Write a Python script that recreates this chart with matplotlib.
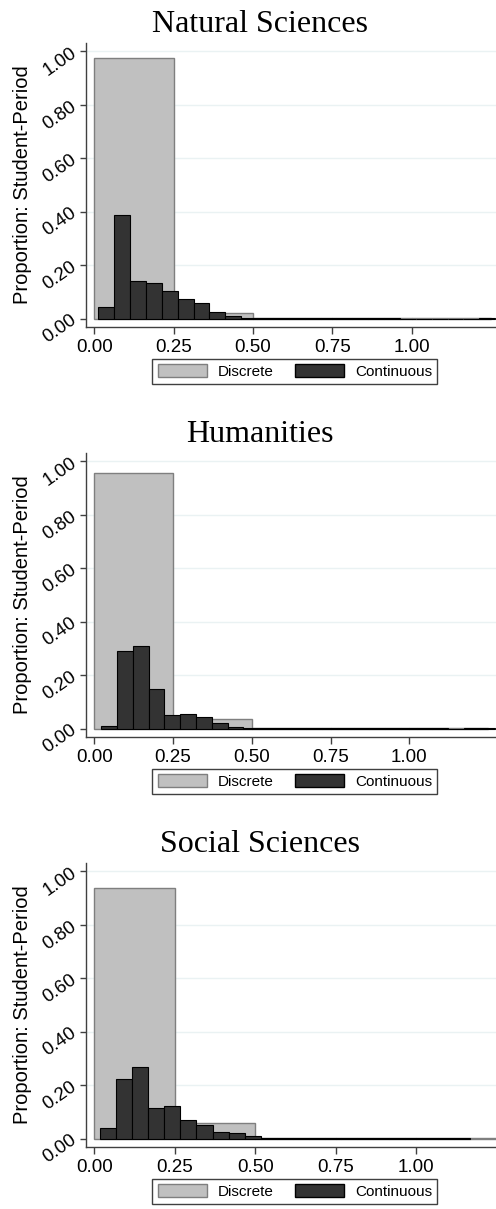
import matplotlib
matplotlib.use('Agg')
import matplotlib.pyplot as plt
from matplotlib.patches import Patch
import numpy as np

plt.rcParams['font.family'] = ['Liberation Sans', 'DejaVu Sans']

titles = ['Natural Sciences', 'Humanities', 'Social Sciences']

# discrete grade distribution, bins of 0.25 starting at 0
disc_width = 0.25
disc_nat = [0.975, 0.020, 0.003, 0.003, 0.003]
disc_hum = [0.958, 0.037, 0.003, 0.003, 0.003]
disc_soc = [0.938, 0.057, 0.003, 0.003, 0.003]

# continuous distribution, bins of 0.05
cont_width = 0.05
cont_start = [0.0125, 0.023, 0.0175]
cont_nat = [0.045, 0.387, 0.141, 0.134, 0.105, 0.075, 0.057, 0.024, 0.011,
            0.003, 0.003, 0.003, 0.003, 0.003, 0.003, 0.003, 0.003, 0.003,
            0.003, 0.0, 0.0, 0.0, 0.0, 0.0, 0.003]
cont_hum = [0.010, 0.289, 0.308, 0.150, 0.050, 0.054, 0.044, 0.020, 0.0075,
            0.003, 0.003, 0.003, 0.003, 0.003, 0.003, 0.003, 0.003, 0.003,
            0.003, 0.003, 0.003, 0.003, 0.0, 0.003, 0.003]
cont_soc = [0.039, 0.224, 0.267, 0.113, 0.122, 0.069, 0.051, 0.025, 0.020,
            0.009, 0.0025, 0.002, 0.002, 0.002, 0.002, 0.002, 0.002, 0.002,
            0.002, 0.002, 0.002, 0.002, 0.002]

xticks = [0.0, 0.25, 0.5, 0.75, 1.0]
yticks = [0.0, 0.2, 0.4, 0.6, 0.8, 1.0]
xmax = [1.265, 1.275, 1.249]

W, H = 496, 1209
fig = plt.figure(figsize=(W / 100, H / 100), dpi=100)

disc_face, disc_edge = '#c0c0c0', '#7f7f7f'
cont_face, cont_edge = '#333333', '#000000'
axis_col = '#404040'

panels = [(disc_nat, cont_nat), (disc_hum, cont_hum), (disc_soc, cont_soc)]
for i, (disc, cont) in enumerate(panels):
    top_px = 43.3 + 410 * i
    bot_px = 326.7 + 410 * i
    left_px = 85.7
    ax_h = bot_px - top_px
    ax = fig.add_axes([left_px / W, 1 - bot_px / H, (W - left_px) / W, ax_h / H])

    for y in yticks[1:]:
        ax.axhline(y, color='#eaf2f3', lw=1, zorder=0)

    dx = np.arange(len(disc)) * disc_width
    ax.bar(dx, disc, width=disc_width, align='edge', color=disc_face,
           edgecolor=disc_edge, linewidth=1, zorder=2)
    cx = cont_start[i] + np.arange(len(cont)) * cont_width
    ax.bar(cx, cont, width=cont_width, align='edge', color=cont_face,
           edgecolor=cont_edge, linewidth=0.8, zorder=3)

    ax.set_xlim(-0.027, xmax[i])
    ax.set_ylim(-0.030, 1.030)
    ax.set_xticks(xticks)
    ax.set_xticklabels(['%.2f' % v for v in xticks])
    ax.set_yticks(yticks)
    ax.set_yticklabels(['%.2f' % v for v in yticks], rotation=35,
                       ha='right', va='center', rotation_mode='anchor')
    ax.tick_params(axis='x', length=5, width=1, color=axis_col, labelsize=13.5, pad=4)
    ax.tick_params(axis='y', length=4, width=1, color=axis_col, labelsize=13.5, pad=4)

    for s in ['top', 'right']:
        ax.spines[s].set_visible(False)
    for s in ['left', 'bottom']:
        ax.spines[s].set_color(axis_col)
        ax.spines[s].set_linewidth(1)

    ax.set_ylabel('Proportion: Student-Period', fontsize=14.5)
    ax.yaxis.set_label_coords(-0.131, 0.5)

    fig.text(260 / W, 1 - (32 + 410 * i) / H, titles[i], ha='center', va='baseline',
             fontsize=23, family=['Liberation Serif', 'DejaVu Serif'])

    handles = [Patch(facecolor=disc_face, edgecolor=disc_edge, label='Discrete'),
               Patch(facecolor=cont_face, edgecolor=cont_edge, label='Continuous')]
    leg = ax.legend(handles=handles, loc='upper center', ncol=2,
                    bbox_to_anchor=(0.510, -32.3 / ax_h),
                    fontsize=11, handlelength=3.2, handleheight=0.85,
                    handletextpad=0.7, columnspacing=1.45, borderpad=0.35,
                    borderaxespad=0, fancybox=False, framealpha=1,
                    edgecolor=axis_col)
    leg.get_frame().set_linewidth(1)

fig.savefig('out.png', dpi=100)
